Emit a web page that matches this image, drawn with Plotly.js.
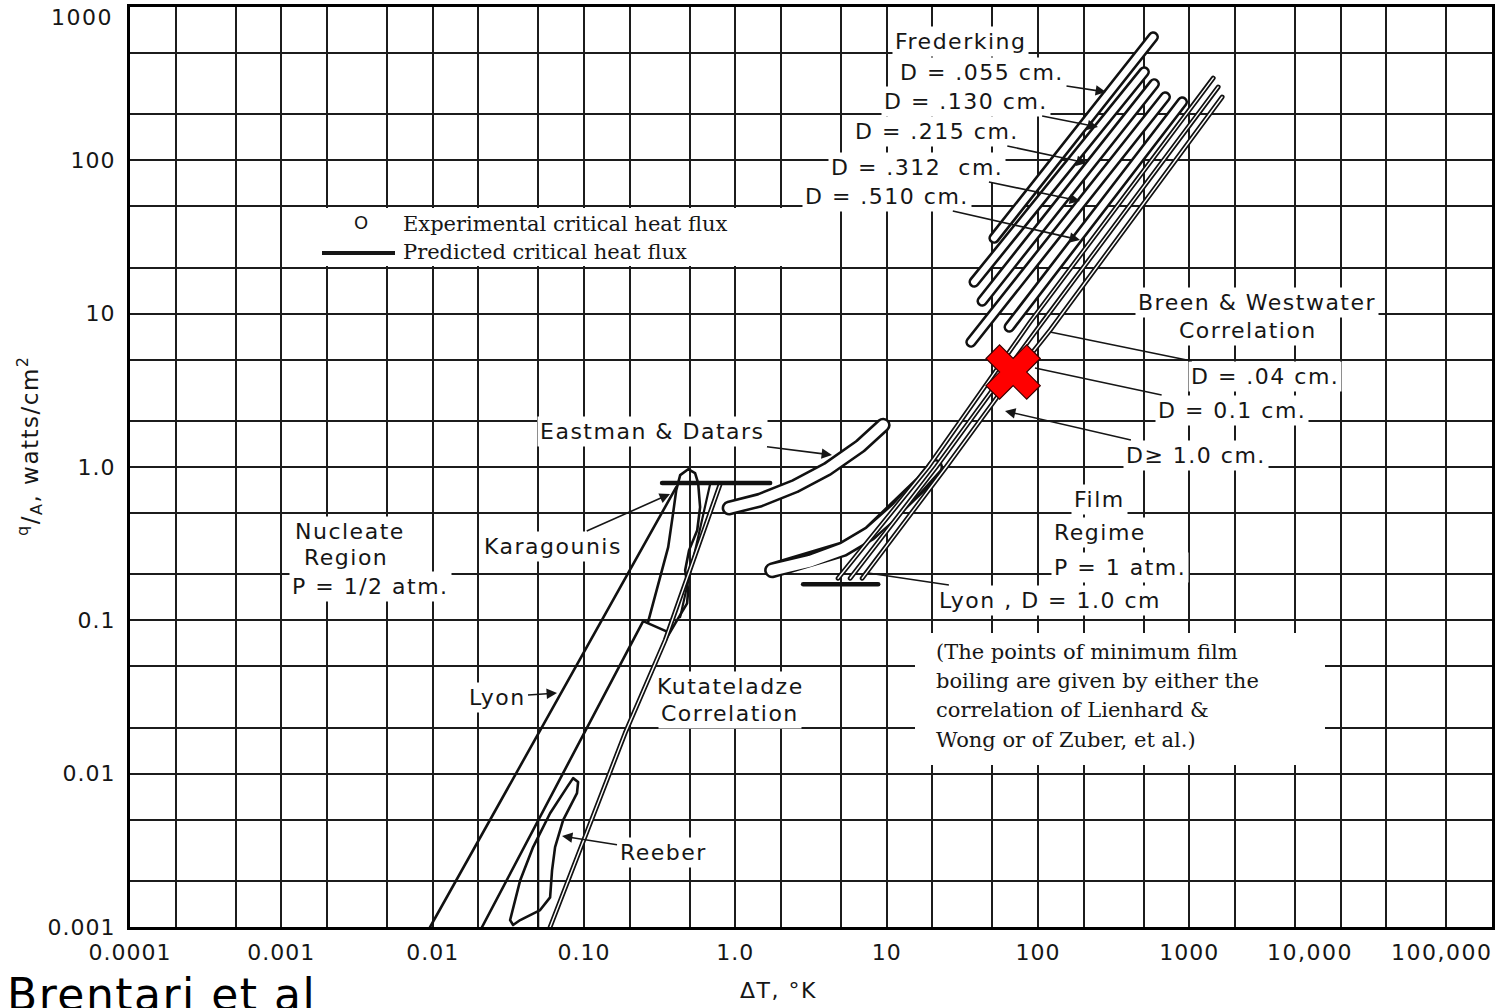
<!DOCTYPE html>
<html><head><meta charset="utf-8">
<script src="https://cdn.plot.ly/plotly-3.0.1.min.js"></script>
<style>
html,body{margin:0;padding:0;background:#fff;}
#chart{width:1501px;height:1008px;}
.annotation-text[style*="Sans"]{letter-spacing:1.5px;}
.xtick text,.ytick text{letter-spacing:1px;}
.scatterlayer .js-line{stroke-linecap:round;stroke-linejoin:round;}
</style></head><body><div id="chart"></div><script>
// ---- axes / grid ----
const xGridVals = [0.0001,0.0002,0.0005,0.001,0.002,0.005,0.01,0.02,0.05,0.1,0.2,0.5,1,2,5,10,20,50,100,200,500,1000,2000,5000,10000,20000,50000,100000];
const xGridText = ['0.0001','','','0.001','','','0.01','','','0.10','','','1.0','','','10','','','100','','','1000','','','','','',''];
const xEndLabels = ['10,000','100,000'];
const yGridVals = [0.001,0.002,0.005,0.01,0.02,0.05,0.1,0.2,0.5,1,2,5,10,20,50,100,200,500,1000];
const yGridText = ['0.001','','','0.01','','','0.1','','','1.0','','','10','','','100','','',''];
const yTopLabel = '1000';

// ---- nucleate region, P = 1/2 atm ----
const lyonNucLeftX = [0.00962, 0.407];
const lyonNucLeftY = [0.001, 0.739];
const lyonNucRightX = [0.0212, 0.246, 0.360];
const lyonNucRightY = [0.001, 0.0989, 0.0837];
const karagounisX = [0.265,0.309,0.360,0.388,0.407,0.432,0.488,0.542,0.568,0.585,0.560,0.495,0.466,0.488,0.480,0.419,0.354];
const karagounisY = [0.0973,0.175,0.300,0.500,0.707,0.885,0.968,0.912,0.785,0.547,0.387,0.287,0.212,0.157,0.129,0.103,0.0776];
const kutateladzeX = [0.0597,0.187,0.344,0.794];
const kutateladzeY = [0.001,0.0184,0.0743,0.773];
const karagounisRightX = [0.432,0.681];
const karagounisRightY = [0.105,0.773];
const reeberX = [0.0325,0.0379,0.0461,0.0597,0.0773,0.0847,0.0914,0.0899,0.0728,0.0644,0.0615,0.0597,0.0513,0.0379,0.0340,0.0325];
const reeberY = [0.00111,0.00202,0.00332,0.00552,0.00817,0.00935,0.00881,0.00746,0.00498,0.00332,0.00234,0.00156,0.00129,0.00111,0.00103,0.00111];
const reeberStemX = [0.0498,0.0498];
const reeberStemY = [0.00498,0.001];
const chfNucX = [0.328,1.698];
const chfNucY = [0.785,0.785];

// ---- film regime, P = 1 atm ----
const eastmanX = [0.910,1.459,2.483,4.046,6.683,9.48];
const eastmanY = [0.540,0.608,0.750,0.968,1.368,1.875];
const lyonFilmX = [1.750,3.119,5.164,7.780,11.73,17.17,20.9];
const lyonFilmY = [0.212,0.243,0.291,0.371,0.531,0.785,1.0];
const chfFilmX = [2.805,8.79];
const chfFilmY = [0.172,0.172];
const breen04X = [4.775,18.8,41.5,88.7,1439];
const breen04Y = [0.188,1.0,3.03,8.81,344];
const breen01X = [5.741,21.23,48.3,103.5,1552];
const breen01Y = [0.188,1.0,3.03,8.43,301];
const breen10X = [6.887,24.7,56.2,120.5,1648];
const breen10Y = [0.188,1.0,3.03,7.82,259];
const fred055X = [51.3,577];  const fred055Y = [31.1,637];
const fred130X = [37.9,503];  const fred130Y = [16.1,377];
const fred215X = [42.8,586];  const fred215Y = [12.1,315];
const fred312X = [36.1,693];  const fred312Y = [6.53,259];
const fred510X = [64.6,898];  const fred510Y = [8.18,240];
const markX = [68.5];
const markY = [4.16];

// ---- traces ----
const K = '#111';
function line(x,y,w,c){return {type:'scatter',mode:'lines',x:x,y:y,line:{color:c||K,width:w||2.6},hoverinfo:'skip'};}
function band(x,y,w){return [line(x,y,w,K), line(x,y,w-5.2,'#fff')];}
function rail(x,y){return [line(x,y,4.8,K), line(x,y,1.4,'#fff')];}

const traces = [].concat(
  [line(lyonNucLeftX,lyonNucLeftY), line(lyonNucRightX,lyonNucRightY), line(karagounisX,karagounisY),
   line(karagounisRightX,karagounisRightY,2.2)],
  rail(kutateladzeX,kutateladzeY),
  [line(reeberX,reeberY), line(reeberStemX,reeberStemY,2.2), line(chfNucX,chfNucY,4.5)],
  band(fred055X,fred055Y,11.5), band(fred130X,fred130Y,11.5), band(fred215X,fred215Y,11.5),
  band(fred312X,fred312Y,11.5), band(fred510X,fred510Y,11.5),
  band(lyonFilmX,lyonFilmY,16), band(eastmanX,eastmanY,15),
  rail(breen04X,breen04Y), rail(breen01X,breen01Y), rail(breen10X,breen10Y),
  [line(chfFilmX,chfFilmY,4.5)],
  [{type:'scatter',mode:'markers',x:markX,y:markY,hoverinfo:'skip',
    marker:{symbol:'x',size:48,color:'#ff0000',line:{color:'#3a0000',width:1.2}}}]
);

// ---- text ----
const SANS = 'DejaVu Sans', SERIF = 'DejaVu Serif';
function PX(p){return (p-130)/1362;}
function PY(p){return (927-p)/920;}
function lab(t,x,y,o){return Object.assign({text:t,xref:'paper',yref:'paper',x:PX(x),y:PY(y),showarrow:false,
  xanchor:'center',yanchor:'middle',
  font:{family:SANS,size:22,color:'#161616'},bgcolor:'#fff',borderpad:2},o||{});}
function arr(t,tx,ty,hx,hy,head){return Object.assign(lab(t,tx,ty),{x:PX(hx),y:PY(hy),showarrow:true,
  ax:tx-hx,ay:ty-hy,axref:'pixel',ayref:'pixel',arrowhead:head,arrowsize:1.3,arrowwidth:1.6,arrowcolor:'#161616',standoff:0});}
const NB = 'rgba(0,0,0,0)';
const serif = {family:SERIF,size:21,color:'#161616'};
const tickFont = {family:SANS,size:22,color:'#161616'};

const annotations = [
  lab(yTopLabel,116,17,{xanchor:'right',bgcolor:NB,font:tickFont}),
  lab(xEndLabels[0],1310,952,{bgcolor:NB,font:tickFont}),
  lab(xEndLabels[1],1441,952,{bgcolor:NB,font:tickFont}),
  lab('<sup>q</sup>/<sub>A</sub>, watts/cm<sup>2</sup>',30,446,{textangle:-90,bgcolor:NB,font:{family:SANS,size:23,color:'#161616'}}),
  lab('\u0394T, \u00b0K',778,990,{bgcolor:NB}),
  lab('Brentari et al',4,994,{xanchor:'left',bgcolor:NB,font:{family:SANS,size:44,color:'#000'}}),
  lab('Frederking',960,42),
  arr('D = .055 cm.',982,73,1106,92,2),
  arr('D = .130 cm.',966,101,1098,127,2),
  arr('D = .215 cm.',937,131,1087,163,2),
  arr('D = .312\u00a0 cm.',917,167,1080,201,2),
  arr('D = .510 cm.',887,196,1080,240,2),
  lab('Breen & Westwater',1257,302),
  lab('Correlation',1248,331),
  arr('D = .04 cm.',1265,376,1050,332,0),
  arr('D = 0.1 cm.',1232,410,1035,368,0),
  arr('D\u2265 1.0 cm.',1196,455,1005,411,2),
  lab('Film',1099,499), lab('Regime',1100,532), lab('P = 1 atm.',1120,567),
  arr('Lyon , D = 1.0 cm',1050,600,868,573,0),
  lab('(The points of minimum film',933,652,{xanchor:'left',bgcolor:NB,font:serif}),
  lab('boiling are given by either the',933,681,{xanchor:'left',bgcolor:NB,font:serif}),
  lab('correlation of Lienhard &',933,710,{xanchor:'left',bgcolor:NB,font:serif}),
  lab('Wong or of Zuber, et al.)',933,740,{xanchor:'left',bgcolor:NB,font:serif}),
  arr('Eastman & Datars',652,432,832,455,2),
  arr('Karagounis',553,546,670,494,2),
  lab('Nucleate',350,531), lab('Region',346,558), lab('P = 1/2 atm.',370,586),
  arr('Lyon',497,697,557,693,2),
  lab('Kutateladze',730,686), lab('Correlation',730,713),
  arr('Reeber',663,852,562,836,2),
  lab('O',362,222,{bgcolor:NB,font:{family:SANS,size:18,color:'#161616'}}),
  lab('Experimental critical heat flux',400,224,{xanchor:'left',bgcolor:NB,font:serif}),
  lab('Predicted critical heat flux',400,252,{xanchor:'left',bgcolor:NB,font:serif})
];

const shapes = [
  {type:'rect',xref:'paper',yref:'paper',x0:PX(285),x1:PX(800),y0:PY(266),y1:PY(208),fillcolor:'#fff',line:{width:0},layer:'above'},
  {type:'rect',xref:'paper',yref:'paper',x0:PX(915),x1:PX(1325),y0:PY(765),y1:PY(633),fillcolor:'#fff',line:{width:0},layer:'above'},
  {type:'line',xref:'paper',yref:'paper',x0:PX(322),x1:PX(395),y0:PY(253),y1:PY(253),line:{color:'#161616',width:4},layer:'above'}
];

const axisCommon = {type:'log',showgrid:true,gridcolor:'#1c1c1c',gridwidth:2,showline:true,linecolor:'#000',
  linewidth:3,mirror:true,ticks:'',zeroline:false,fixedrange:true,
  tickfont:tickFont};

const layout = {
  width:1501,height:1008,margin:{l:130,r:9,t:7,b:81,pad:0},
  paper_bgcolor:'#fff',plot_bgcolor:'#fff',showlegend:false,
  xaxis:Object.assign({},axisCommon,{range:[-4,5],tickvals:xGridVals,ticktext:xGridText,ticklabelstandoff:4}),
  yaxis:Object.assign({},axisCommon,{range:[-3,3],tickvals:yGridVals,ticktext:yGridText,ticklabelstandoff:7}),
  annotations:annotations,shapes:shapes
};

Plotly.newPlot('chart',traces,layout,{displayModeBar:false,staticPlot:true});
</script></body></html>
